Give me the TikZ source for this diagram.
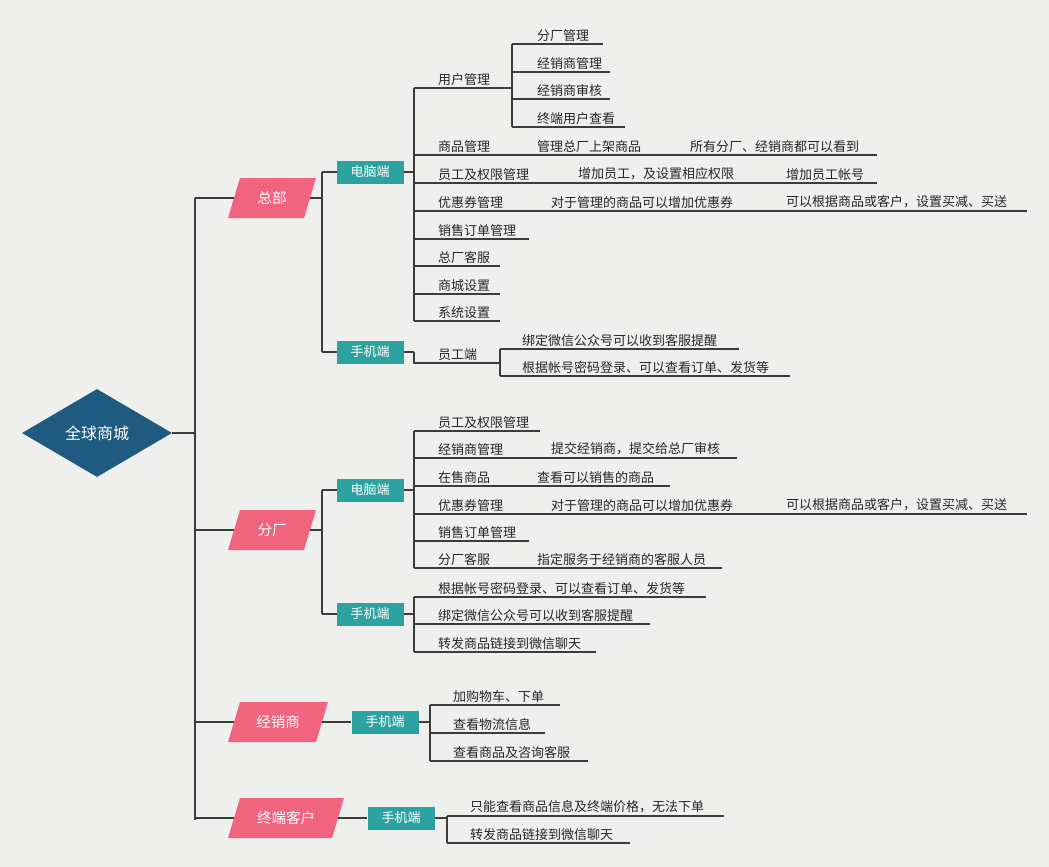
\documentclass[tikz,border=0pt]{standalone}
\usepackage{fontspec}
\setmainfont{Noto Sans CJK SC}
\usetikzlibrary{shapes.geometric}
\definecolor{bg}{HTML}{EFEFEE}
\definecolor{ln}{HTML}{3C3C3C}
\definecolor{pk}{HTML}{F1647E}
\definecolor{tl}{HTML}{2CA3A0}
\definecolor{db}{HTML}{1F5A80}
\tikzset{
 ln/.style={draw=ln,line width=2.2pt},
 lf/.style={anchor=south west,inner sep=0pt,yshift=2.5pt,font=\fontsize{13}{15}\selectfont,text=black!85},
 tb/.style={fill=tl,text=white,minimum width=67pt,minimum height=23pt,inner sep=0pt,font=\fontsize{13}{15}\selectfont},
 pt/.style={text=white,inner sep=0pt,font=\fontsize{14.5}{16}\selectfont}
}
\newcommand{\pg}[5]{% name x y halfwidth text
 \fill[pk] (#2-#4-7,#3+20) -- (#2-#4+5,#3-20) -- (#2+#4+7,#3-20) -- (#2+#4-5,#3+20) -- cycle;
 \node[pt] (#1) at (#2,#3) {#5};
 \coordinate (#1-e) at (#2+#4+1,#3);}
\newcommand{\ul}[3]{\draw[ln] (#1,#3) -- (#2,#3);}
\newcommand{\vl}[3]{\draw[ln] (#1,#2) -- (#1,#3);}
\begin{document}
\begin{tikzpicture}[x=1pt,y=-1pt]
\fill[bg] (0,0) rectangle (1049,867);
\useasboundingbox (0,0) rectangle (1049,867);
% root
\node[diamond,fill=db,text=white,minimum width=150pt,minimum height=88pt,inner sep=0pt,aspect=1.7,font=\fontsize{16}{18}\selectfont] (root) at (97,433) {全球商城};
\draw[ln] (root.east) -- (195,433);
\vl{195}{198}{820}
\ul{195}{240}{198}\ul{195}{240}{530}\ul{195}{240}{722}\ul{195}{240}{818}
\pg{zb}{272}{198}{37}{总部}
\pg{fc}{272}{530}{37}{分厂}
\pg{jx}{278}{722}{43}{经销商}
\pg{zd}{286}{818}{51}{终端客户}
% ===== 总部
\draw[ln] (zb-e) -- (322,198);
\vl{322}{172}{352}
\ul{322}{340}{172}\ul{322}{340}{352}
\node[tb] (zpc) at (370,172) {电脑端};
\node[tb] (zmb) at (370,352) {手机端};
\draw[ln] (zpc.east) -- (414,172);
\vl{414}{88}{321}
\ul{414}{512}{88}\node[lf] (a1) at (438,88) {用户管理};
\vl{512}{44}{127}
\ul{512}{603}{44}\node[lf] (a11) at (537,44) {分厂管理};
\ul{512}{610}{72}\node[lf] (a12) at (537,72) {经销商管理};
\ul{512}{610}{99}\node[lf] (a13) at (537,99) {经销商审核};
\ul{512}{625}{127}\node[lf] (a14) at (537,127) {终端用户查看};
\ul{414}{877}{155}\node[lf] (a2) at (438,155) {商品管理};
\node[lf] (a21) at (537,155) {管理总厂上架商品};
\node[lf] (a22) at (690,155) {所有分厂、经销商都可以看到};
\ul{414}{877}{183}\node[lf] (a3) at (438,183) {员工及权限管理};
\node[lf] (a31) at (578,183) {增加员工，及设置相应权限};
\node[lf] (a32) at (786,183) {增加员工帐号};
\ul{414}{1027}{211}\node[lf] (a4) at (438,211) {优惠券管理};
\node[lf] (a41) at (551,211) {对于管理的商品可以增加优惠券};
\node[lf] (a42) at (786,211) {可以根据商品或客户，设置买减、买送};
\ul{414}{529}{239}\node[lf] (a5) at (438,239) {销售订单管理};
\ul{414}{500}{266}\node[lf] (a6) at (438,266) {总厂客服};
\ul{414}{500}{294}\node[lf] (a7) at (438,294) {商城设置};
\ul{414}{500}{321}\node[lf] (a8) at (438,321) {系统设置};
\draw[ln] (zmb.east) -- (414,352);
\draw[ln] (414,352) -- (414,363) -- (500,363);
\node[lf] (b1) at (438,363) {员工端};
\vl{500}{349}{376}
\ul{500}{739}{349}\node[lf] (b11) at (522,349) {绑定微信公众号可以收到客服提醒};
\ul{500}{790}{376}\node[lf] (b12) at (522,376) {根据帐号密码登录、可以查看订单、发货等};
% ===== 分厂
\draw[ln] (fc-e) -- (322,530);
\vl{322}{490}{614}
\ul{322}{340}{490}\ul{322}{340}{614}
\node[tb] (fpc) at (370,490) {电脑端};
\node[tb] (fmb) at (370,614) {手机端};
\draw[ln] (fpc.east) -- (414,490);
\vl{414}{431}{568}
\ul{414}{540}{431}\node[lf] (c1) at (438,431) {员工及权限管理};
\ul{414}{737}{458}\node[lf] (c2) at (438,458) {经销商管理};
\node[lf] (c21) at (551,458) {提交经销商，提交给总厂审核};
\ul{414}{670}{486}\node[lf] (c3) at (438,486) {在售商品};
\node[lf] (c31) at (537,486) {查看可以销售的商品};
\ul{414}{1027}{514}\node[lf] (c4) at (438,514) {优惠券管理};
\node[lf] (c41) at (551,514) {对于管理的商品可以增加优惠券};
\node[lf] (c42) at (786,514) {可以根据商品或客户，设置买减、买送};
\ul{414}{529}{541}\node[lf] (c5) at (438,541) {销售订单管理};
\ul{414}{722}{568}\node[lf] (c6) at (438,568) {分厂客服};
\node[lf] (c61) at (537,568) {指定服务于经销商的客服人员};
\draw[ln] (fmb.east) -- (414,614);
\vl{414}{597}{652}
\ul{414}{706}{597}\node[lf] (d1) at (438,597) {根据帐号密码登录、可以查看订单、发货等};
\ul{414}{650}{624}\node[lf] (d2) at (438,624) {绑定微信公众号可以收到客服提醒};
\ul{414}{596}{652}\node[lf] (d3) at (438,652) {转发商品链接到微信聊天};
% ===== 经销商
\node[tb] (jmb) at (385,722) {手机端};
\draw[ln] (jx-e) -- (jmb.west);
\draw[ln] (jmb.east) -- (430,722);
\vl{430}{705}{761}
\ul{430}{560}{705}\node[lf] (e1) at (453,705) {加购物车、下单};
\ul{430}{545}{733}\node[lf] (e2) at (453,733) {查看物流信息};
\ul{430}{588}{761}\node[lf] (e3) at (453,761) {查看商品及咨询客服};
% ===== 终端客户
\node[tb] (zdm) at (401,818) {手机端};
\draw[ln] (zd-e) -- (zdm.west);
\draw[ln] (zdm.east) -- (447,818);
\vl{447}{816}{843}
\ul{447}{724}{816}\node[lf] (f1) at (470,816) {只能查看商品信息及终端价格，无法下单};
\ul{447}{630}{843}\node[lf] (f2) at (470,843) {转发商品链接到微信聊天};
\end{tikzpicture}
\end{document}
